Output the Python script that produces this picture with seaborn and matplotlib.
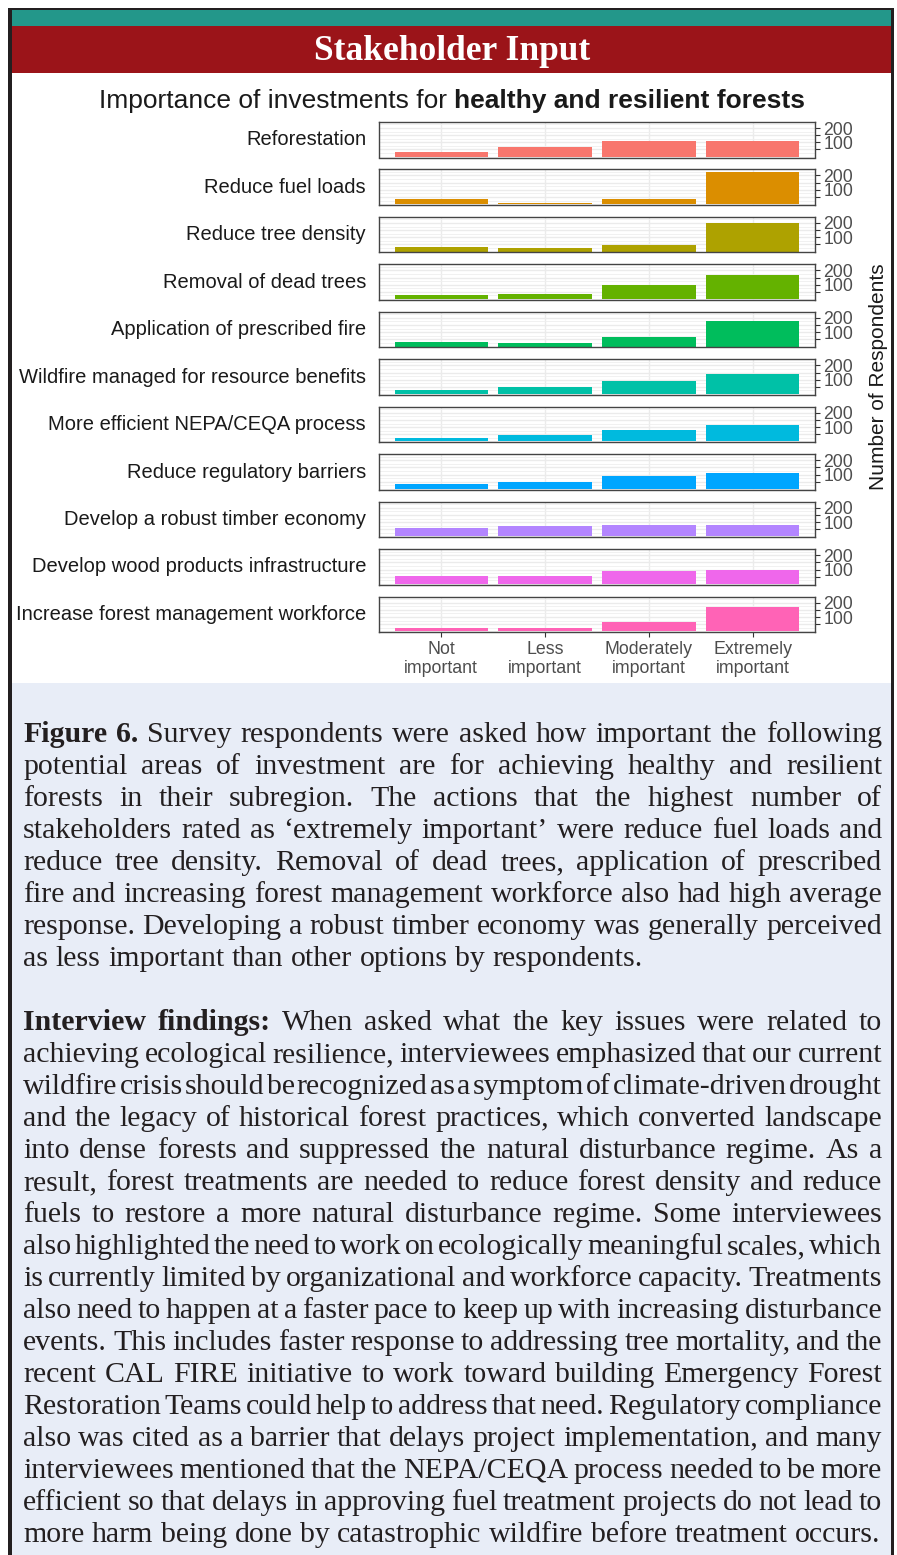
import matplotlib
matplotlib.use("Agg")
import matplotlib.pyplot as plt
from matplotlib.patches import Rectangle
import seaborn as sns
import pandas as pd
import numpy as np

# ---------------- data ----------------
actions = [
    "Reforestation",
    "Reduce fuel loads",
    "Reduce tree density",
    "Removal of dead trees",
    "Application of prescribed fire",
    "Wildfire managed for resource benefits",
    "More efficient NEPA/CEQA process",
    "Reduce regulatory barriers",
    "Develop a robust timber economy",
    "Develop wood products infrastructure",
    "Increase forest management workforce",
]
levels = ["Not\nimportant", "Less\nimportant", "Moderately\nimportant", "Extremely\nimportant"]

reforestation = [30, 70, 107, 112]
reduce_fuel_loads = [33, 9, 38, 224]
reduce_tree_density = [33, 22, 49, 200]
removal_dead_trees = [31, 38, 96, 167]
prescribed_fire = [33, 27, 69, 180]
wildfire_managed = [27, 49, 89, 138]
nepa_ceqa = [22, 44, 80, 116]
regulatory_barriers = [33, 46, 91, 113]
timber_economy = [62, 71, 78, 78]
wood_products = [53, 55, 89, 100]
workforce = [22, 24, 67, 172]

series = [reforestation, reduce_fuel_loads, reduce_tree_density, removal_dead_trees,
          prescribed_fire, wildfire_managed, nepa_ceqa, regulatory_barriers,
          timber_economy, wood_products, workforce]

colors = ["#F8766D", "#DB8E00", "#AEA200", "#64B200", "#00BD5C", "#00C1A7",
          "#00BADE", "#00A6FF", "#B385FF", "#EF67EB", "#FF63B6"]

y_tick_values = [50, 100, 150, 200]
y_tick_labels = ["", "100", "", "200"]

banner_title = "Stakeholder Input"
chart_title_regular = "Importance of investments for"
chart_title_bold = "healthy and resilient forests"
y_axis_title = "Number of Respondents"

para1 = [
    "**Figure **6. Survey respondents were asked how important the following",
    "potential areas of investment are for achieving healthy and resilient",
    "forests in their subregion. The actions that the highest number of",
    "stakeholders rated as \u2018extremely important\u2019 were reduce fuel loads and",
    "reduce tree density. Removal of dead trees, application of prescribed",
    "fire and increasing forest management workforce also had high average",
    "response. Developing a robust timber economy was generally perceived",
    "as less important than other options by respondents.",
]
para2 = [
    "**Interview **findings: When asked what the key issues were related to",
    "achieving ecological resilience, interviewees emphasized that our current",
    "wildfire crisis should be recognized as a symptom of climate-driven drought",
    "and the legacy of historical forest practices, which converted landscape",
    "into dense forests and suppressed the natural disturbance regime. As a",
    "result, forest treatments are needed to reduce forest density and reduce",
    "fuels to restore a more natural disturbance regime. Some interviewees",
    "also highlighted the need to work on ecologically meaningful scales, which",
    "is currently limited by organizational and workforce capacity. Treatments",
    "also need to happen at a faster pace to keep up with increasing disturbance",
    "events. This includes faster response to addressing tree mortality, and the",
    "recent CAL FIRE initiative to work toward building Emergency Forest",
    "Restoration Teams could help to address that need. Regulatory compliance",
    "also was cited as a barrier that delays project implementation, and many",
    "interviewees mentioned that the NEPA/CEQA process needed to be more",
    "efficient so that delays in approving fuel treatment projects do not lead to",
    "more harm being done by catastrophic wildfire before treatment occurs.",
]

# ---------------- figure ----------------
W, H = 897, 1555
DPI = 100
sns.set_theme(style="white")
plt.rcParams['font.family'] = ['Liberation Sans', 'DejaVu Sans']

fig = plt.figure(figsize=(W / DPI, H / DPI), dpi=DPI)
fig.patch.set_facecolor("white")


def fx(px):
    return px / W


def fy(py):
    return 1 - py / H


def frect(x0, y0, x1, y1, color, z=0):
    fig.add_artist(Rectangle((fx(x0), fy(y1)), fx(x1) - fx(x0), (y1 - y0) / H,
                             transform=fig.transFigure, facecolor=color,
                             edgecolor="none", zorder=z))


# background blocks
frect(8, 8, 894, 1555, "#231F20", z=-3)
frect(12, 10, 891, 1555, "white", z=-2.9)
frect(12, 10, 891, 26, "#23978A", z=-2.8)
frect(12, 26, 891, 73, "#9B1419", z=-2.8)
frect(12, 683, 891, 1555, "#E8EDF7", z=-2.8)

fig.text(fx(452), fy(51), banner_title, color="white", fontsize=25.5,
         family="Liberation Serif", weight="bold", ha="center", va="center", zorder=3)

renderer = fig.canvas.get_renderer()


def measure(s, **kw):
    t = fig.text(0, 0, s, **kw)
    w = t.get_window_extent(renderer).width
    t.remove()
    return w


# chart title (regular + bold)
tkw = dict(fontsize=19, family="Liberation Sans", color="#1A1A1A")
sp = measure("x x", **tkw) - measure("xx", **tkw)
w_reg = measure(chart_title_regular, **tkw)
w_bold = measure(chart_title_bold, weight="bold", **tkw)
total = w_reg + sp + w_bold
x0 = 452 - total / 2
fig.text(fx(x0), fy(108), chart_title_regular, ha="left", va="baseline", **tkw)
fig.text(fx(x0 + w_reg + sp), fy(108), chart_title_bold, ha="left", va="baseline",
         weight="bold", **tkw)

# ---------------- panels ----------------
left, right = 379, 815
top0, step, ph = 122, 47.47, 35.5
n = len(actions)
for i, (name, vals, col) in enumerate(zip(actions, series, colors)):
    top = top0 + i * step
    ax = fig.add_axes([fx(left), fy(top + ph), fx(right) - fx(left), ph / H])
    ax.set_zorder(1)
    df = pd.DataFrame({"level": levels, "count": vals})
    sns.barplot(data=df, x="level", y="count", order=levels, color=col,
                saturation=1, width=0.9, linewidth=0, edgecolor=col, ax=ax, zorder=2)
    ax.set_facecolor("white")
    ax.set_xlim(-0.6, 3.6)
    ax.set_ylim(-6, 242)
    ax.set_xlabel("")
    ax.set_ylabel("")
    ax.set_yticks(y_tick_values)
    ax.set_yticklabels(y_tick_labels)
    ax.set_yticks([0, 25, 75, 125, 175, 225], minor=True)
    ax.yaxis.set_ticks_position("right")
    ax.set_axisbelow(True)
    ax.grid(True, axis="y", which="major", color="#EBEBEB", lw=1.0, zorder=0)
    ax.grid(True, axis="y", which="minor", color="#EFEFEF", lw=0.6, zorder=0)
    ax.grid(True, axis="x", which="major", color="#EBEBEB", lw=1.0, zorder=0)
    ax.tick_params(axis="y", which="major", length=3.5, width=0.8, color="#333333",
                   labelsize=12.7, labelcolor="#4D4D4D", pad=2.5, right=True, left=False)
    ax.tick_params(axis="y", which="minor", length=0)
    for s in ax.spines.values():
        s.set_color("#444444")
        s.set_linewidth(1.0)
    if i < n - 1:
        ax.tick_params(axis="x", length=0, labelbottom=False)
    else:
        ax.tick_params(axis="x", length=3.5, width=0.8, color="#333333",
                       labelsize=12.8, labelcolor="#4D4D4D", pad=3, bottom=True)
        for lab in ax.get_xticklabels():
            lab.set_linespacing(1.15)
    fig.text(fx(366), fy(top + ph / 2), name, ha="right", va="center",
             fontsize=14.5, color="#1A1A1A")

fig.text(fx(878), fy(377), y_axis_title, rotation=90, ha="center", va="center",
         fontsize=15, color="#1A1A1A")

# ---------------- justified body text ----------------
bkw = dict(fontsize=21.5, family="Liberation Serif", color="#231F20")
xl, xr = 23, 882
space_w = measure("x x", **bkw) - measure("xx", **bkw)


def parse(line):
    words = []
    if line.startswith("**"):
        rest = line[2:]
        bold_part, rest = rest.split("**", 1)
        tok, rest = rest.split(" ", 1)
        for w in (bold_part + tok).split(" "):
            if w:
                words.append((w, True))
        line = rest
    for w in line.split(" "):
        if w:
            words.append((w, False))
    return words


def draw_par(lines, base):
    for k, line in enumerate(lines):
        y = base + k * 32
        words = parse(line)
        widths = [measure(w, weight="bold" if b else "normal", **bkw) for w, b in words]
        last = (k == len(lines) - 1)
        if last or len(words) == 1:
            gap = space_w
        else:
            gap = (xr - xl - sum(widths)) / (len(words) - 1)
        x = xl
        for (w, b), wd in zip(words, widths):
            fig.text(fx(x), fy(y), w, ha="left", va="baseline",
                     weight="bold" if b else "normal", zorder=3, **bkw)
            x += wd + gap


draw_par(para1, 742)
draw_par(para2, 1030)

fig.savefig("out.png", dpi=DPI, facecolor="white")
